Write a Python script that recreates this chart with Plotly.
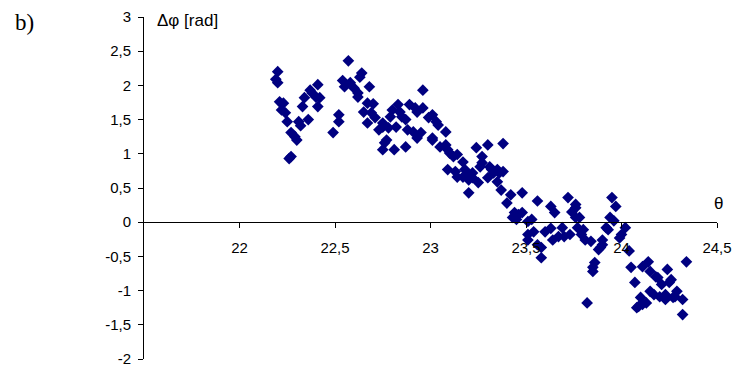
import plotly.graph_objects as go

theta = [
    22.20, 22.19, 22.20, 22.21, 22.23, 22.22, 22.24, 22.25, 22.27, 22.29,
    22.30, 22.27, 22.26, 22.31, 22.32, 22.33, 22.34, 22.36, 22.37, 22.38,
    22.41, 22.42, 22.41, 22.40, 22.49, 22.52, 22.52, 22.54, 22.55, 22.57,
    22.64, 22.63, 22.58, 22.60, 22.62, 22.62, 22.68, 22.67, 22.70, 22.65,
    22.69, 22.71, 22.67, 22.75, 22.73, 22.75, 22.78, 22.82, 22.79, 22.80,
    22.83, 22.84, 22.85, 22.87, 22.89, 22.92, 22.93, 22.96, 22.96, 22.88,
    22.91, 22.95, 22.93, 22.99, 23.01, 23.01, 22.77, 22.76, 22.75, 22.81,
    22.87, 23.03, 23.04, 23.08, 23.01, 23.05, 23.08, 23.09, 23.10, 23.12,
    23.14, 23.17, 23.09, 23.13, 23.14, 23.17, 23.18, 23.20, 23.22, 23.22,
    23.20, 23.25, 23.24, 23.30, 23.27, 23.27, 23.26, 23.31, 23.32, 23.33,
    23.35, 23.36, 23.38, 23.30, 23.35, 23.38, 23.20, 23.37, 23.42, 23.48,
    23.40, 23.56, 23.44, 23.46, 23.48, 23.43, 23.45, 23.51, 23.53, 23.63,
    23.65, 23.72, 23.76, 23.76, 23.54, 23.51, 23.51, 23.60, 23.63, 23.64,
    23.67, 23.69, 23.70, 23.73, 23.56, 23.58, 23.58, 23.76, 23.74, 23.78,
    23.77, 23.80, 23.79, 23.81, 23.84, 23.90, 23.90, 23.89, 23.88, 23.86,
    23.85, 23.85, 23.82, 23.95, 23.97, 23.94, 23.96, 23.92, 23.93, 24.02,
    24.00, 23.99, 24.04, 24.05, 24.07, 24.11, 24.14, 24.15, 24.18, 24.19,
    24.21, 24.24, 24.26, 24.25, 24.34, 24.15, 24.17, 24.20, 24.23, 24.23,
    24.29, 24.28, 24.27, 24.32, 24.10, 24.13, 24.11, 24.09, 24.08, 24.32,
]

dphi = [
    2.20, 2.09, 2.04, 1.76, 1.74, 1.64, 1.60, 1.47, 1.31, 1.25,
    1.20, 0.96, 0.93, 1.47, 1.41, 1.69, 1.82, 1.50, 1.93, 1.89,
    2.01, 1.82, 1.69, 1.83, 1.31, 1.47, 1.57, 2.07, 1.98, 2.36,
    2.18, 2.12, 2.04, 1.96, 1.89, 1.83, 1.98, 1.74, 1.73, 1.61,
    1.60, 1.53, 1.45, 1.45, 1.35, 1.39, 1.38, 1.39, 1.54, 1.64,
    1.72, 1.61, 1.54, 1.50, 1.72, 1.67, 1.61, 1.67, 1.93, 1.35,
    1.32, 1.31, 1.23, 1.53, 1.57, 1.20, 1.20, 1.16, 1.06, 1.06,
    1.10, 1.47, 1.42, 1.32, 1.23, 1.10, 1.13, 1.06, 1.01, 0.96,
    0.99, 0.88, 0.77, 0.74, 0.66, 0.66, 0.77, 0.69, 0.72, 0.65,
    0.62, 0.58, 1.09, 1.13, 0.96, 0.87, 0.81, 0.81, 0.77, 0.72,
    0.77, 0.72, 0.74, 0.65, 0.59, 1.15, 0.43, 0.47, 0.40, 0.43,
    0.28, 0.31, 0.14, 0.11, 0.14, 0.07, 0.04, 0.01, 0.04, 0.23,
    0.14, 0.36, 0.26, 0.07, -0.14, -0.18, -0.26, -0.14, -0.09, -0.26,
    -0.21, -0.08, -0.21, -0.18, -0.33, -0.37, -0.52, 0.21, 0.15, 0.07,
    -0.08, -0.11, -0.18, -0.26, -0.28, -0.26, -0.33, -0.37, -0.40, -0.59,
    -0.66, -0.72, -1.18, 0.36, 0.23, 0.07, 0.02, -0.08, -0.11, -0.08,
    -0.18, -0.23, -0.42, -0.66, -0.88, -0.65, -0.58, -0.72, -0.80, -0.81,
    -0.91, -0.69, -0.84, -0.88, -0.58, -1.01, -1.06, -1.09, -1.06, -1.13,
    -1.01, -1.09, -1.10, -1.13, -1.10, -1.18, -1.20, -1.23, -1.25, -1.35,
]

x_tickvals = [22, 22.5, 23, 23.5, 24, 24.5]
x_ticktext = ["22", "22,5", "23", "23,5", "24", "24,5"]
y_tickvals = [-2, -1.5, -1, -0.5, 0, 0.5, 1, 1.5, 2, 2.5, 3]
y_ticktext = ["-2", "-1,5", "-1", "-0,5", "0", "0,5", "1", "1,5", "2", "2,5", "3"]

FONT = "Liberation Sans, Arial, sans-serif"

fig = go.Figure()
fig.add_trace(go.Scatter(
    x=theta, y=dphi, mode="markers",
    marker=dict(symbol="diamond", size=9, color="#000080", line=dict(width=0)),
    showlegend=False,
))

fig.update_layout(
    width=735, height=367,
    margin=dict(l=144, r=18, t=17, b=8, autoexpand=False),
    paper_bgcolor="white", plot_bgcolor="white",
    font=dict(family=FONT, size=15, color="black"),
    xaxis=dict(
        range=[21.5, 24.5], anchor="free", position=0.4,
        showline=True, linecolor="black", linewidth=1,
        ticks="outside", ticklen=5, tickcolor="black", tickwidth=1,
        tickvals=x_tickvals, ticktext=x_ticktext,
        showgrid=False, zeroline=False, ticklabelstandoff=7,
        automargin=False, ticklabeloverflow="allow",
        tickfont=dict(family=FONT, size=15, color="black"),
    ),
    yaxis=dict(
        range=[-2, 3],
        showline=True, linecolor="black", linewidth=1,
        ticks="outside", ticklen=5, tickcolor="black", tickwidth=1,
        tickvals=y_tickvals, ticktext=y_ticktext,
        showgrid=False, zeroline=False, ticklabelstandoff=4,
        automargin=False, ticklabeloverflow="allow",
        tickfont=dict(family=FONT, size=15, color="black"),
    ),
    annotations=[
        dict(text="Δφ [rad]", x=21.5, y=3, xref="x", yref="y",
             xanchor="left", yanchor="middle", xshift=11, yshift=-3,
             showarrow=False, font=dict(family=FONT, size=17, color="black")),
        dict(text="θ", x=24.5, y=0, xref="x", yref="y",
             xanchor="center", yanchor="middle", xshift=1, yshift=19,
             showarrow=False, font=dict(family=FONT, size=17, color="black")),
        dict(text="b)", x=-0.229, y=0.985, xref="paper", yref="paper",
             xanchor="left", yanchor="middle",
             showarrow=False, font=dict(family="Liberation Serif, Times New Roman, serif", size=23, color="black")),
    ],
)

fig.write_html(
    "out.html",
    config={"displayModeBar": False},
    post_script="document.body.style.margin='0';document.body.style.overflow='hidden';",
)
